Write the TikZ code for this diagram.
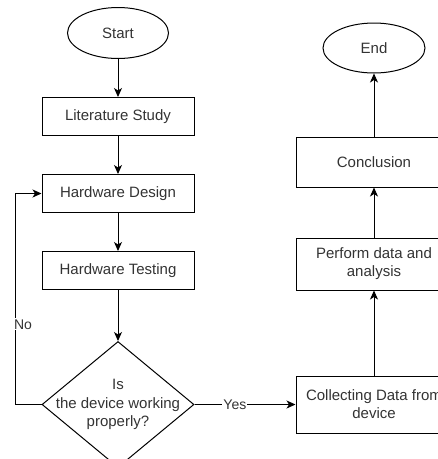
\documentclass[tikz,border=0pt]{standalone}
\usepackage{fontspec}
\setmainfont{Liberation Sans}
\usepackage{tikz}
\usetikzlibrary{shapes.geometric,arrows.meta,positioning}
\definecolor{txtGray}{RGB}{51,51,51}
\tikzset{
  term/.style={draw,ellipse,line width=1pt,minimum width=101pt,minimum height=51pt,
               font=\fontsize{15pt}{18pt}\selectfont,text=txtGray},
  proc/.style={draw,rectangle,line width=1pt,minimum width=152pt,minimum height=38pt,
               font=\fontsize{15pt}{18pt}\selectfont,align=center,text=txtGray},
  wproc/.style={proc,minimum width=156pt,inner sep=2pt},
  decision/.style={draw,diamond,line width=1pt,minimum width=152pt,minimum height=126pt,
                   inner sep=0pt},
  lbl/.style={fill=white,inner sep=1pt,font=\fontsize{14pt}{16pt}\selectfont,text=txtGray},
  arr/.style={-{Stealth[length=9pt,width=8pt,inset=2.5pt]},line width=1pt},
}
\begin{document}
\begin{tikzpicture}[node distance=38pt]
  \useasboundingbox (0,0) rectangle (438pt,-459pt);
  %% ── Left column (top-to-bottom) ─────────────────────────────────────────
  \node[term] (start) at (118pt,-33pt) {Start};
  \node[proc,below=of start]    (litstudy) {Literature Study};
  \node[proc,below=of litstudy] (hwdesign) {Hardware Design};
  \node[proc,below=of hwdesign] (hwtest)   {Hardware Testing};
  \node[decision,below=51pt of hwtest,
        label={[align=center,font=\fontsize{15pt}{18.5pt}\selectfont,text=txtGray]center:Is\\the device working\\properly?}] (check) {};

  %% ── Right column (bottom-to-top) ────────────────────────────────────────
  \node[wproc,minimum height=57pt,right=101pt of check] (collect) {Collecting Data from\\device};
  \node[wproc,minimum height=52pt,above=85pt of collect] (perform) {Perform data and\\analysis};
  \node[wproc,minimum height=50pt,above=50pt of perform] (conclude) {Conclusion};
  \node[term,minimum width=102pt,minimum height=50pt,above=63pt of conclude] (finish) {End};

  %% ── Arrows ──────────────────────────────────────────────────────────────
  \foreach \a/\b in {start/litstudy,litstudy/hwdesign,hwdesign/hwtest,hwtest/check}{
    \draw[arr] (\a.south)--(\b.north);
  }
  \foreach \a/\b in {collect/perform,perform/conclude,conclude/finish}{
    \draw[arr] (\a.north)--(\b.south);
  }
  \draw[arr] (check.east)--(collect.west) node[lbl,pos=0.4] {Yes};
  \draw[arr] (check.west)--++(-26pt,0) |- (hwdesign.west)
    node[lbl,pos=0.19,anchor=west,xshift=-3pt] {No};
\end{tikzpicture}
\end{document}
